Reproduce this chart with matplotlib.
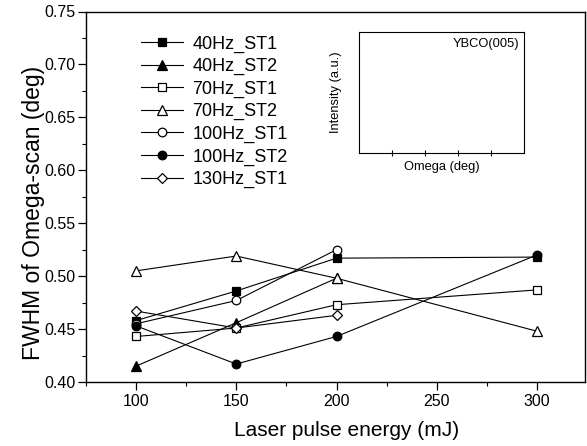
import matplotlib
matplotlib.use("Agg")
import matplotlib.pyplot as plt
from matplotlib.ticker import MultipleLocator

plt.rcParams['font.family'] = ['Liberation Sans', 'DejaVu Sans']

energy = [100, 150, 200, 250, 300]

s40_st1_x = [100, 150, 200, 300]
s40_st1_y = [0.458, 0.486, 0.517, 0.518]
s40_st2_x = [100, 150, 200]
s40_st2_y = [0.415, 0.456, 0.498]
s70_st1_x = [100, 150, 200, 300]
s70_st1_y = [0.443, 0.451, 0.473, 0.487]
s70_st2_x = [100, 150, 200, 300]
s70_st2_y = [0.505, 0.519, 0.498, 0.448]
s100_st1_x = [100, 150, 200]
s100_st1_y = [0.455, 0.477, 0.525]
s100_st2_x = [100, 150, 200, 300]
s100_st2_y = [0.453, 0.417, 0.443, 0.520]
s130_st1_x = [100, 150, 200]
s130_st1_y = [0.467, 0.451, 0.463]

labels = ['40Hz_ST1', '40Hz_ST2', '70Hz_ST1', '70Hz_ST2',
          '100Hz_ST1', '100Hz_ST2', '130Hz_ST1']

fig = plt.figure(figsize=(5.87, 4.46), dpi=100)
ax = fig.add_axes([86/587, 1-382/446, (585-86)/587, (382-11.5)/446])

series = [
    (s40_st1_x, s40_st1_y, 's', 'black'),
    (s40_st2_x, s40_st2_y, '^', 'black'),
    (s70_st1_x, s70_st1_y, 's', 'white'),
    (s70_st2_x, s70_st2_y, '^', 'white'),
    (s100_st1_x, s100_st1_y, 'o', 'white'),
    (s100_st2_x, s100_st2_y, 'o', 'black'),
    (s130_st1_x, s130_st1_y, 'D', 'white'),
]
for (x, y, m, fc), lab in zip(series, labels):
    ms = {'D': 5.0, 's': 5.2, '^': 6.5, 'o': 6.2}[m]
    ax.plot(x, y, color='black', lw=0.8, marker=m, markersize=ms,
            markerfacecolor=fc, markeredgecolor='black', markeredgewidth=0.9,
            label=lab)

ax.set_xlim(75, 324)
ax.set_ylim(0.40, 0.75)
ax.set_xticks(energy)
ax.xaxis.set_minor_locator(MultipleLocator(25))
ax.yaxis.set_major_locator(MultipleLocator(0.05))
ax.yaxis.set_minor_locator(MultipleLocator(0.025))
ax.yaxis.set_major_formatter(matplotlib.ticker.FormatStrFormatter('%.2f'))
ax.tick_params(which='major', direction='out', length=5.5, width=0.9,
               labelsize=11.5, pad=2)
ax.tick_params(axis='x', which='major', pad=3)
ax.tick_params(which='minor', direction='out', length=3, width=0.8)
for sp in ax.spines.values():
    sp.set_linewidth(1.0)

ax.set_xlabel('Laser pulse energy (mJ)', fontsize=15)
ax.set_ylabel('FWHM of Omega-scan (deg)', fontsize=16.5)
ax.xaxis.set_label_coords(0.523, -0.105)
ax.yaxis.set_label_coords(-0.082, 0.456)

leg = ax.legend(loc='upper left', bbox_to_anchor=(0.096, 0.955), frameon=False,
                fontsize=13, handlelength=2.3, handletextpad=0.55,
                labelspacing=0.3, borderaxespad=0)

inset = fig.add_axes([359/587, 1-153/446, (524-359)/587, (153-31.7)/446])
inset.set_xlim(0, 1)
inset.set_ylim(0, 1)
inset.set_xticks([0.2, 0.4, 0.6, 0.8])
inset.set_yticks([])
inset.tick_params(axis='x', which='major', direction='inout', length=4,
                  labelbottom=False)
inset.set_xlabel('Omega (deg)', fontsize=9.3, labelpad=4)
inset.set_ylabel('Intensity (a.u.)', fontsize=9.3, labelpad=12)
inset.text(0.97, 0.90, 'YBCO(005)', transform=inset.transAxes, ha='right',
           va='center', fontsize=9.3)

fig.savefig('out.png', dpi=100)
